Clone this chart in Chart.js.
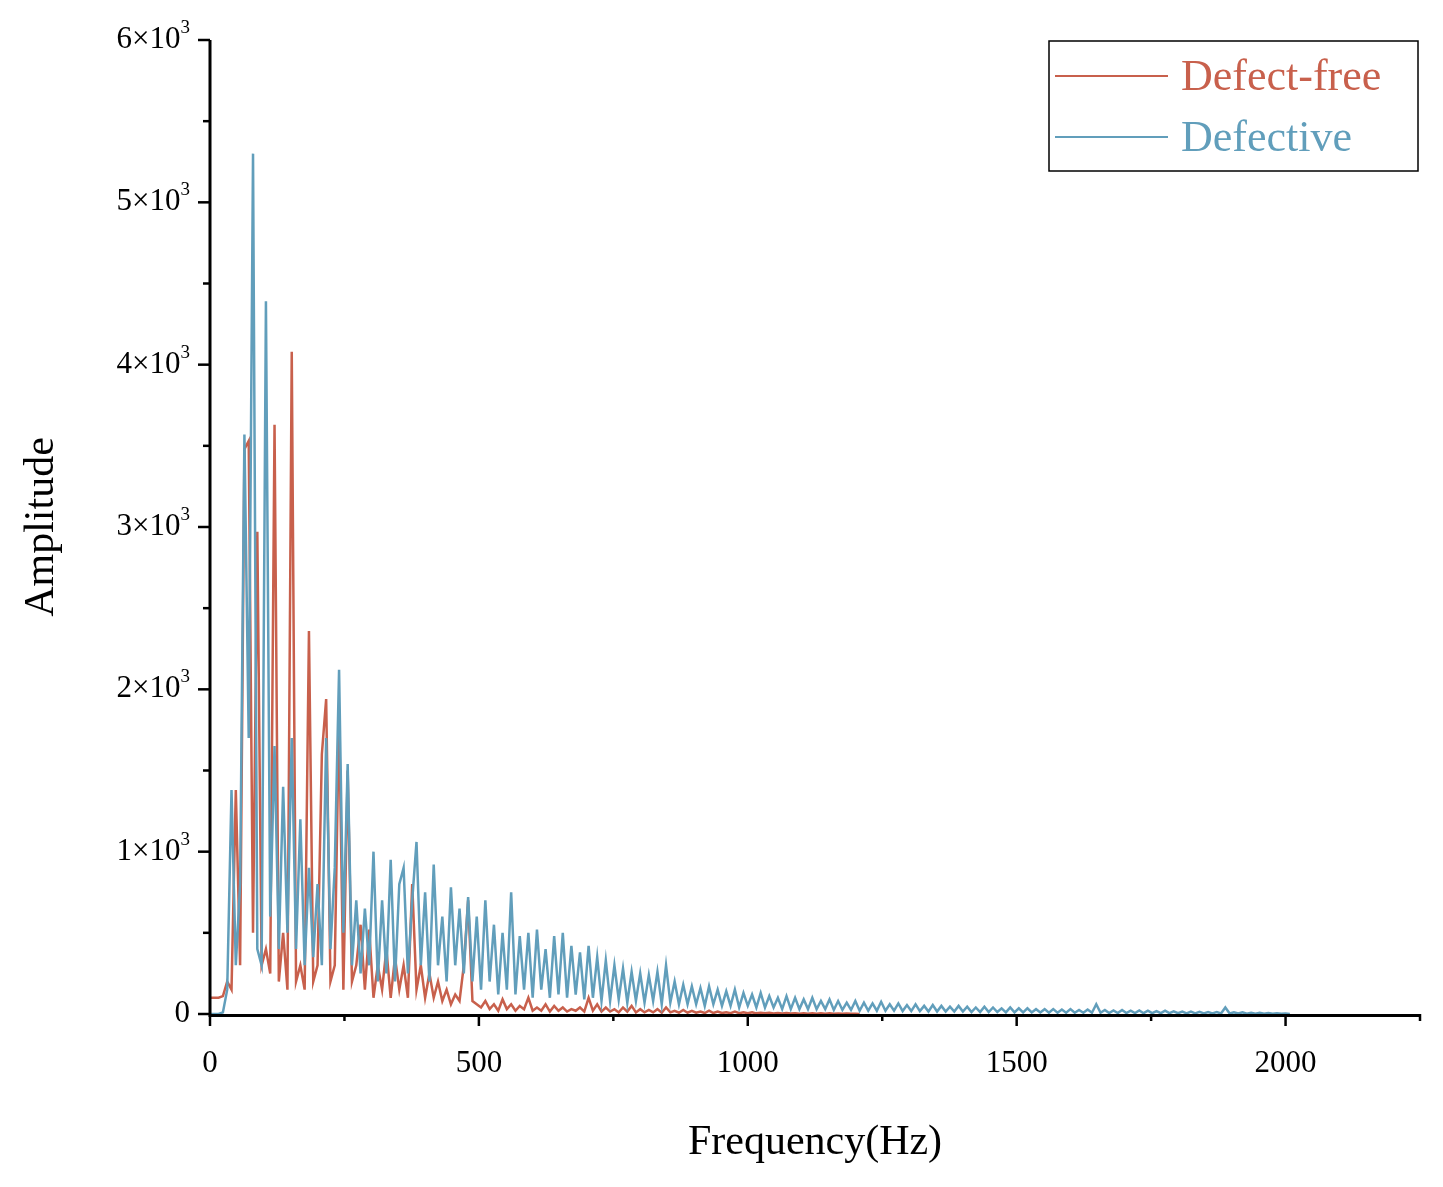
<!DOCTYPE html>
<html><head><meta charset="utf-8">
<script src="https://cdn.jsdelivr.net/npm/chart.js@4"></script>
<style>html,body{margin:0;padding:0;background:#fff}#c{display:block}</style>
</head><body>
<canvas id="c" width="1443" height="1187"></canvas>
<script>
const freqStepHz = 8;
const seriesLabels = ["Defect-free", "Defective"];
const xTickLabels = ["0", "500", "1000", "1500", "2000"];
const yTickLabels = ["0", "1", "2", "3", "4", "5", "6"];
const defectFree = [100,100,100,110,200,150,1380,300,3480,3530,500,2970,300,400,250,3630,200,500,150,4080,200,300,150,2360,200,300,1600,1940,200,300,1860,150,1500,200,300,550,150,520,100,300,150,400,100,350,150,300,100,800,150,300,100,250,100,200,80,150,60,120,80,300,700,80,60,
40,80,30,60,20,90,30,60,20,50,30,100,20,40,20,60,15,50,20,40,15,30,20,40,15,100,20,60,15,40,15,30,10,40,15,50,10,30,10,25,10,30,8,40,10,20,8,25,8,20,8,15,6,20,6,15,6,10,5,15,5,10,5,
10,4,8,4,8,3,6,3,6,3,5,2,5,2,5,2,4,2,4,2,3,1,3,1,2,0];
const defective = [0,0,0,10,150,1380,300,800,3570,1700,5300,400,300,4390,600,1650,400,1400,500,1700,400,1200,300,900,350,800,300,1700,400,900,2120,500,1540,300,700,250,650,300,1000,200,700,250,950,200,800,900,250,700,1060,300,750,200,920,300,600,200,780,300,650,250,720,200,600,
150,700,200,550,120,500,150,750,120,480,150,500,100,520,150,400,100,480,120,500,100,420,120,380,90,420,100,350,80,330,80,300,90,280,70,260,80,250,70,240,80,260,60,300,70,200,60,180,60,170,60,160,50,170,60,150,50,140,50,150,40,130,50,
120,40,130,40,110,40,100,30,110,30,100,30,90,30,100,30,80,30,90,25,80,25,70,25,80,20,
70,20,65,20,75,20,60,20,65,18,55,18,60,18,50,15,55,15,50,15,45,15,50,15,45,12,40,12,45,12,40,12,35,10,40,10,35,10,35,10,30,10,30,8,30,8,28,8,30,8,25,8,28,8,60,8,25,6,22,6,25,6,20,6,22,5,20,5,18,5,20,5,16,5,15,4,15,4,14,4,12,4,12,3,40,3,10,3,10,2,8,2,8,2,6,1,5,1,3,0];
const toPts = arr => arr.map((v, i) => ({x: i * freqStepHz, y: v}));

const serif = '"Liberation Serif", "DejaVu Serif", serif';
const RED = '#C8604C', BLUE = '#619EBB';

const deco = {
  id: 'deco',
  afterDraw(chart) {
    const ctx = chart.ctx, xs = chart.scales.x, ys = chart.scales.y;
    const L = xs.left, R = xs.right, T = ys.top, B = ys.bottom;
    ctx.save();
    ctx.strokeStyle = '#000'; ctx.fillStyle = '#000';
    ctx.lineWidth = 3;
    ctx.beginPath(); ctx.moveTo(L, T); ctx.lineTo(L, B + 1.5); ctx.lineTo(R, B + 1.5); ctx.stroke();
    ctx.lineWidth = 2.5;
    for (let v = 0; v <= 6000; v += 500) {
      const y = ys.getPixelForValue(v), len = v % 1000 === 0 ? 12 : 7;
      ctx.beginPath(); ctx.moveTo(L, y); ctx.lineTo(L - len, y); ctx.stroke();
    }
    for (let v = 0; v <= 2250; v += 250) {
      const x = xs.getPixelForValue(v), len = v % 500 === 0 ? 12 : 7;
      ctx.beginPath(); ctx.moveTo(x, B); ctx.lineTo(x, B + len); ctx.stroke();
    }
    // x labels
    ctx.font = '31px ' + serif; ctx.textAlign = 'center'; ctx.textBaseline = 'top';
    xTickLabels.forEach((t, i) => ctx.fillText(t, xs.getPixelForValue(i * 500), B + 34));
    // y labels
    ctx.textBaseline = 'middle';
    yTickLabels.forEach((t, i) => {
      const y = ys.getPixelForValue(i * 1000);
      if (t === '0') { ctx.font = '31px ' + serif; ctx.textAlign = 'right'; ctx.fillText('0', L - 20, y); return; }
      ctx.font = '19px ' + serif; ctx.textAlign = 'right';
      const supW = ctx.measureText('3').width;
      ctx.fillText('3', L - 20, y - 12);
      ctx.font = '31px ' + serif;
      ctx.fillText(t + '\u00d710', L - 20 - supW, y);
    });
    // axis titles
    ctx.font = '42px ' + serif; ctx.textAlign = 'center'; ctx.textBaseline = 'middle';
    ctx.fillText('Frequency(Hz)', (L + R) / 2 - 0, 1143);
    ctx.save(); ctx.translate(42, 527); ctx.rotate(-Math.PI / 2); ctx.fillText('Amplitude', 0, 0); ctx.restore();
    // legend
    ctx.lineWidth = 1.5; ctx.strokeRect(1049, 41, 369, 130);
    const cols = [RED, BLUE], ly = [76, 137];
    ctx.font = '44px ' + serif; ctx.textAlign = 'left';
    seriesLabels.forEach((s, i) => {
      ctx.strokeStyle = cols[i]; ctx.lineWidth = 2;
      ctx.beginPath(); ctx.moveTo(1055, ly[i]); ctx.lineTo(1168, ly[i]); ctx.stroke();
      ctx.fillStyle = cols[i]; ctx.fillText(s, 1181, ly[i] + 2);
    });
    ctx.restore();
  }
};

new Chart(document.getElementById('c'), {
  type: 'line',
  data: { datasets: [
    { label: seriesLabels[0], data: toPts(defectFree), borderColor: RED, borderWidth: 2.5, pointRadius: 0, tension: 0, order: 2 },
    { label: seriesLabels[1], data: toPts(defective), borderColor: BLUE, borderWidth: 2.5, pointRadius: 0, tension: 0, order: 1 }
  ]},
  options: {
    responsive: false, animation: false, events: [],
    layout: { padding: { left: 210, right: 23, top: 40, bottom: 173 } },
    plugins: { legend: { display: false }, tooltip: { enabled: false } },
    scales: {
      x: { type: 'linear', min: 0, max: 2250, display: false },
      y: { min: 0, max: 6000, display: false }
    }
  },
  plugins: [deco]
});
</script>
</body></html>
